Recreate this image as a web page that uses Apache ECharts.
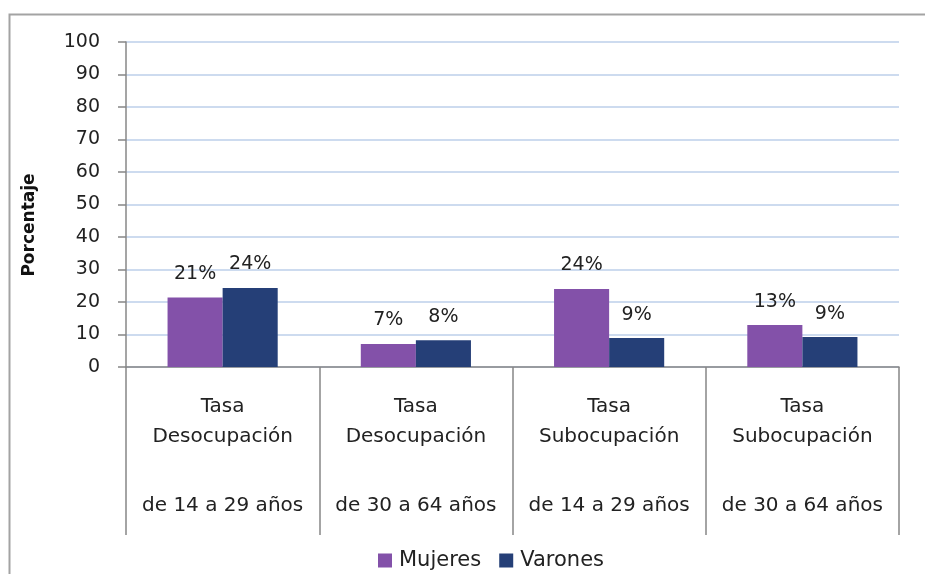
<!DOCTYPE html>
<html>
<head>
<meta charset="utf-8">
<script src="https://cdn.jsdelivr.net/npm/echarts@6/dist/echarts.min.js"></script>
<style>
  html, body { margin: 0; padding: 0; background: #fff; }
  #chart { width: 925px; height: 574px; }
</style>
</head>
<body>
<div id="chart"></div>
<script>
const categories = [
  "Tasa\nDesocupación\n\nde 14 a 29 años",
  "Tasa\nDesocupación\n\nde 30 a 64 años",
  "Tasa\nSubocupación\n\nde 14 a 29 años",
  "Tasa\nSubocupación\n\nde 30 a 64 años"
];
const mujeres = [21.4, 7.1, 24.0, 12.9];
const varones = [24.3, 8.2, 8.9, 9.2];
const mujeresLabels = ["21%", "7%", "24%", "13%"];
const varonesLabels = ["24%", "8%", "9%", "9%"];
const yTicks = [0, 10, 20, 30, 40, 50, 60, 70, 80, 90, 100];

const font = "DejaVu Sans";
const chart = echarts.init(document.getElementById("chart"));

const option = {
  animation: false,
  backgroundColor: "#fff",
  textStyle: { fontFamily: font },
  grid: { left: 126, right: 26, top: 42, bottom: 207 },
  graphic: [
    {
      type: "polyline",
      shape: { points: [[9.5, 600], [9.5, 14.5], [960, 14.5]] },
      style: { fill: null, stroke: "#a3a3a3", lineWidth: 2 },
      silent: true
    },
    {
      type: "text",
      x: 30,
      y: 225,
      rotation: Math.PI / 2,
      style: {
        text: "Porcentaje",
        fontFamily: font,
        fontSize: 17,
        fontWeight: "bold",
        fill: "#111",
        align: "center",
        verticalAlign: "middle"
      }
    }
  ],
  legend: {
    left: 373,
    top: 545,
    itemWidth: 14,
    itemHeight: 14,
    itemGap: 18,
    icon: "rect",
    textStyle: { fontFamily: font, fontSize: 21, color: "#222", padding: [0, 0, 0, 2] },
    data: ["Mujeres", "Varones"]
  },
  xAxis: {
    type: "category",
    data: categories,
    axisLine: { lineStyle: { color: "#878787", width: 1.5 } },
    axisTick: { show: true, length: 168, lineStyle: { color: "#878787", width: 1.5 } },
    axisLabel: {
      margin: 25,
      interval: 0,
      color: "#222",
      formatter: function (v) {
        return v.split("\n").map(function (s) {
          return s === "" ? "{g| }" : "{a|" + s + "}";
        }).join("\n");
      },
      rich: {
        a: { fontFamily: font, fontSize: 20, lineHeight: 30, color: "#222" },
        g: { fontSize: 10, lineHeight: 39 }
      }
    }
  },
  yAxis: {
    type: "value",
    min: yTicks[0],
    max: yTicks[yTicks.length - 1],
    interval: 10,
    axisLine: { show: true, lineStyle: { color: "#878787", width: 1.5 } },
    axisTick: { show: true, length: 8, lineStyle: { color: "#878787", width: 1.5 } },
    axisLabel: { margin: 26, fontFamily: font, fontSize: 19, color: "#222" },
    splitLine: { lineStyle: { color: "#bccfea", width: 1.5 } }
  },
  series: [
    {
      name: "Mujeres",
      type: "bar",
      data: mujeres,
      barGap: "0%",
      barCategoryGap: "43%",
      itemStyle: { color: "#8351a9" },
      label: {
        show: true,
        position: "top",
        distance: 14,
        fontFamily: font,
        fontSize: 19,
        color: "#222",
        formatter: function (p) { return mujeresLabels[p.dataIndex]; }
      }
    },
    {
      name: "Varones",
      type: "bar",
      data: varones,
      barGap: "0%",
      barCategoryGap: "43%",
      itemStyle: { color: "#253f77" },
      label: {
        show: true,
        position: "top",
        distance: 14,
        fontFamily: font,
        fontSize: 19,
        color: "#222",
        formatter: function (p) { return varonesLabels[p.dataIndex]; }
      }
    }
  ]
};

chart.setOption(option);
</script>
</body>
</html>
